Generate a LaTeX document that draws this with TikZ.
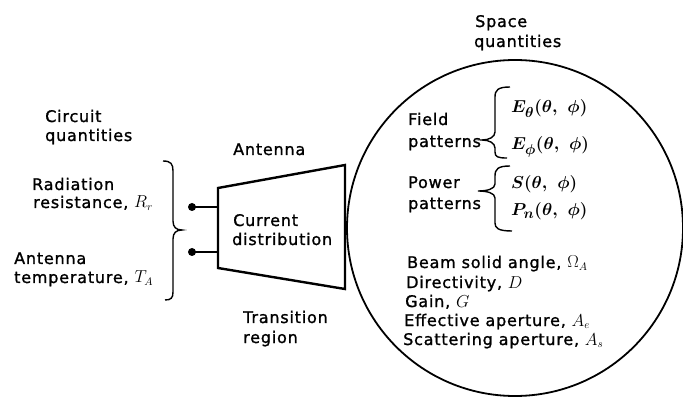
\documentclass[tikz,border=0pt]{standalone}
\usepackage{bm}
\usepackage{fontspec}
\setmainfont[LetterSpace=5,FakeBold=1.2]{DejaVu Sans}
\begin{document}
\begin{tikzpicture}[x=1pt,y=-1pt,
  lbl/.style={anchor=base west, inner sep=0pt, font=\fontsize{16}{20}\selectfont},
  mth/.style={anchor=base west, inner sep=0pt, font=\fontsize{19}{22}\selectfont},
  dot/.style={circle, fill=black, inner sep=0pt, minimum size=8pt},
  wire/.style={line width=2.2pt},
  body/.style={line width=2.4pt, line join=miter},
  brace/.style={line width=1.4pt},
  sphere/.style={circle, draw, line width=1.8pt, minimum size=336pt, inner sep=0pt}]
\useasboundingbox (0,0) rectangle (683,398);

% space sphere
\node[sphere] (sph) at (515,228) {};

% antenna body
\coordinate (tl) at (218,188);
\coordinate (tr) at (345,165);
\coordinate (br) at (345,289);
\coordinate (bl) at (218,268);
\draw[body] (tl) -- (tr) -- (br) -- (bl) -- cycle;

% terminals
\coordinate (a1) at (218,207);
\coordinate (a2) at (218,252);
\node[dot] (t1) at (192,207) {};
\node[dot] (t2) at (192,252) {};
\draw[wire] (t1.center) -- (a1);
\draw[wire] (t2.center) -- (a2);

% left brace
\draw[brace] (163,161) .. controls (171,161) and (173,164) .. (173,171) -- (173,221)
  .. controls (173,227) and (176,230) .. (182,230)
  .. controls (176,230) and (173,233) .. (173,239) -- (173,292)
  .. controls (173,298) and (171,300) .. (165,300);

% field brace
\draw[brace] (510,87) .. controls (498,87) and (495,90) .. (495,97) -- (495,132)
  .. controls (495,137) and (489,140) .. (482,140)
  .. controls (489,140) and (495,143) .. (495,148) -- (495,152)
  .. controls (495,157) and (498,158) .. (507,158);

% power brace
\draw[brace] (510,166) .. controls (498,166) and (495,169) .. (495,176) -- (495,184)
  .. controls (495,189) and (487,191) .. (478,191)
  .. controls (487,191) and (495,193) .. (495,198) -- (495,223)
  .. controls (495,228) and (498,231) .. (512,231);

% circuit side
\node[lbl] (cq1) at (45,122) {Circuit};
\node[lbl] (cq2) at (45,141) {quantities};
\node[lbl] (rr1) at (32,190) {Radiation};
\node[lbl] (rr2) at (33,208) {resistance, $R_r$};
\node[lbl] (ta1) at (14,264) {Antenna};
\node[lbl] (ta2) at (14,283) {temperature, $T_A$};

% antenna
\node[lbl] (ant) at (233,155) {Antenna};
\node[lbl] (cd1) at (233,226) {Current};
\node[lbl] (cd2) at (232,245) {distribution};
\node[lbl] (tr1) at (243,323) {Transition};
\node[lbl] (tr2) at (243,343) {region};

% space side
\node[lbl] (sq1) at (475,27) {Space};
\node[lbl] (sq2) at (474,47) {quantities};
\node[lbl] (fp1) at (408,125) {Field};
\node[lbl] (fp2) at (408,147) {patterns};
\node[lbl] (pp1) at (408,188) {Power};
\node[lbl] (pp2) at (408,209) {patterns};
\node[mth] (e1) at (511,113) {$\bm{E_\theta(\theta,\ \phi)}$};
\node[mth] (e2) at (511,150) {$\bm{E_\phi(\theta,\ \phi)}$};
\node[mth] (s1) at (511,189) {$\bm{S(\theta,\ \phi)}$};
\node[mth] (p1) at (511,216) {$\bm{P_n(\theta,\ \phi)}$};
\node[lbl] (l1) at (407,268) {Beam solid angle, $\Omega_A$};
\node[lbl] (l2) at (406,288) {Directivity, $D$};
\node[lbl] (l3) at (405,307) {Gain, $G$};
\node[lbl] (l4) at (404,326) {Effective aperture, $A_e$};
\node[lbl] (l5) at (403,345) {Scattering aperture, $A_s$};
\end{tikzpicture}
\end{document}
